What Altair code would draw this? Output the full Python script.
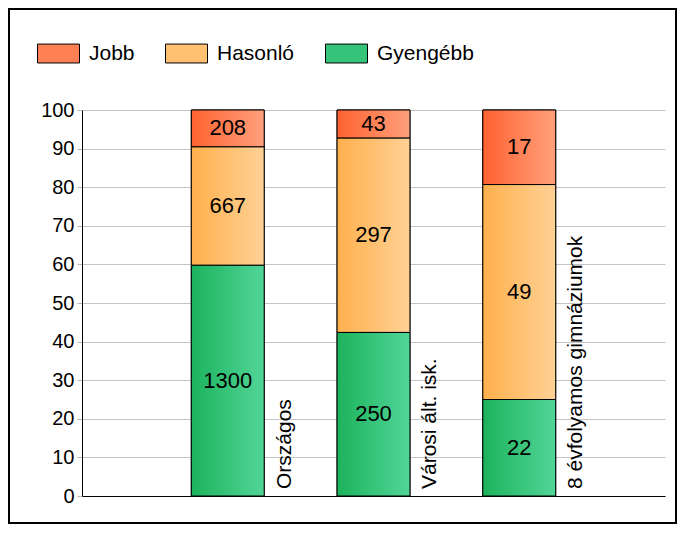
import altair as alt
import pandas as pd

categories = ["Országos", "Városi ált. isk.", "8 évfolyamos gimnáziumok"]
series = ["Jobb", "Hasonló", "Gyengébb"]
jobb = [208, 43, 17]
hasonlo = [667, 297, 49]
gyengebb = [1300, 250, 22]
y_ticks = list(range(0, 101, 10))

grad_left = {"Jobb": "#FF6230", "Hasonló": "#FFB04C", "Gyengébb": "#1CB35C"}
grad_right = {"Jobb": "#FFA07C", "Hasonló": "#FFD196", "Gyengébb": "#52D598"}
legend_colors = ["#FF8055", "#FFC171", "#36C47A"]

FONT = "Liberation Sans"

rows = []
cat_rows = []
for i, cat in enumerate(categories):
    counts = {"Jobb": jobb[i], "Hasonló": hasonlo[i], "Gyengébb": gyengebb[i]}
    total = sum(counts.values())
    base = 0.0
    for s in ["Gyengébb", "Hasonló", "Jobb"]:
        pct = counts[s] / total * 100
        rows.append(dict(category=cat, pos=i + 1, series=s, count=counts[s],
                         y0=base, y1=base + pct, ymid=base + pct / 2))
        base += pct
    cat_rows.append(dict(category=cat, pos=i + 1, base=0))

df = pd.DataFrame(rows)
cdf = pd.DataFrame(cat_rows)

xscale = alt.Scale(domain=[0, 4], nice=False, zero=False)
yscale = alt.Scale(domain=[0, 100], nice=False)
xaxis = alt.Axis(labels=False, ticks=False, grid=False, domainColor="black", title=None, domainWidth=1)
yaxis = alt.Axis(values=y_ticks, tickCount=11, labelOverlap=False, labelFontSize=20,
                 labelFont=FONT, labelColor="black",
                 tickColor="#b8b8b8", tickSize=5, domainColor="black", gridColor="#c4c4c4",
                 title=None, labelPadding=3)

base = alt.Chart(df).transform_calculate(
    xl="datum.pos - 0.25", xr="datum.pos + 0.25"
)

legend_layer = base.mark_bar(stroke="black", strokeWidth=1).encode(
    x=alt.X("xl:Q", scale=xscale, axis=xaxis),
    x2="xr:Q",
    y=alt.Y("y0:Q", scale=yscale, axis=yaxis),
    y2="y1:Q",
    color=alt.Color("series:N", scale=alt.Scale(domain=series, range=legend_colors),
                    legend=alt.Legend(title=None, orient="none", legendX=-45, legendY=-78,
                                      direction="horizontal",
                                      symbolType="M-1,-0.45H1V0.45H-1Z", symbolSize=1764,
                                      symbolStrokeColor="black", symbolStrokeWidth=1,
                                      symbolOpacity=1,
                                      labelFont=FONT, labelFontSize=21, labelColor="black",
                                      labelOffset=9, columnPadding=28, padding=0)),
)

grad_layers = []
for s in series:
    grad_layers.append(
        base.transform_filter(alt.datum.series == s).mark_bar(
            fill=alt.Gradient(gradient="linear",
                              stops=[alt.GradientStop(color=grad_left[s], offset=0),
                                     alt.GradientStop(color=grad_right[s], offset=1)],
                              x1=0, x2=1, y1=0, y2=0),
            stroke="black", strokeWidth=1,
        ).encode(x=alt.X("xl:Q", scale=xscale, axis=xaxis), x2="xr:Q",
                 y=alt.Y("y0:Q", scale=yscale, axis=yaxis), y2="y1:Q")
    )

values_layer = alt.Chart(df).mark_text(font=FONT, fontSize=22, color="black").encode(
    x=alt.X("pos:Q", scale=xscale, axis=xaxis),
    y=alt.Y("ymid:Q", scale=yscale, axis=yaxis),
    text="count:Q",
)

cat_layer = alt.Chart(cdf).transform_calculate(lx="datum.pos + 0.39").mark_text(
    font=FONT, fontSize=21, color="black", angle=270, align="left", baseline="middle", dx=7
).encode(
    x=alt.X("lx:Q", scale=xscale, axis=xaxis),
    y=alt.Y("base:Q", scale=yscale, axis=yaxis),
    text="category:N",
)

frame = alt.Chart(pd.DataFrame({"a": [0]})).mark_rect(
    fillOpacity=0, stroke="black", strokeWidth=2
).encode(x=alt.value(-73), x2=alt.value(594), y=alt.value(-101), y2=alt.value(413))

chart = alt.layer(legend_layer, *grad_layers, values_layer, cat_layer, frame).properties(
    width=583, height=386,
    padding={"left": 74, "top": 102, "right": 12, "bottom": 28},
    autosize=alt.AutoSizeParams(type="none"),
).configure_view(stroke=None)

chart.save("out.html", embed_options={"renderer": "svg", "actions": False})
